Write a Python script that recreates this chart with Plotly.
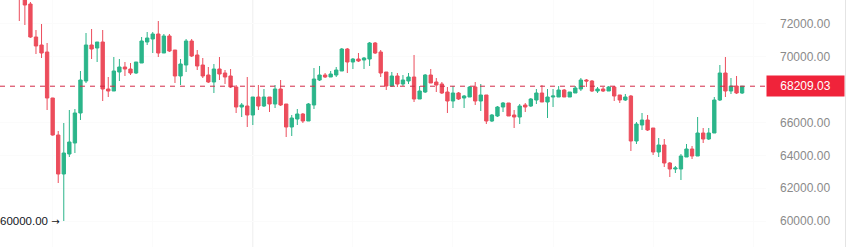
import plotly.graph_objects as go

# ---- data ----
opens = [74300, 73700, 73215, 71206, 70718, 70292, 67491, 65237, 62862, 64080,
         64750, 66577, 68526, 70718, 70536, 70901, 68039, 67917, 69074, 69379,
         69257, 69013, 69622, 70901, 71084, 71388, 70231, 71267, 70414, 68831,
         69500, 70962, 70110, 69500, 68891, 68465, 69257, 69013, 68831, 68161,
         66943, 67004, 66455, 67552, 67004, 67552, 67125, 68039, 67125, 65725,
         66212, 66516, 66090, 67065, 68587, 68891, 68770, 68891, 69135, 70475,
         69683, 69866, 69805, 69866, 70840, 70292, 69074, 68222, 68831, 68343,
         68526, 68770, 67430, 67856, 68891, 68465, 68343, 67856, 67308, 67795,
         67491, 67552, 68161, 67308, 67674, 66090, 66394, 66943, 67186, 66455,
         66334, 67065, 67004, 67369, 67795, 67247, 67552, 67552, 67978, 67552,
         67795, 68039, 68587, 68526, 67917, 68039, 67917, 68161, 67674, 67369,
         67613, 64872, 65846, 66151, 65664, 64202, 64628, 63532, 63167, 63167,
         63897, 64385, 63959, 65359, 64994, 65359, 67369, 69013, 67917, 68222,
         67795]
highs = [74600, 73900, 73337, 71632, 71997, 70840, 67500, 65481, 65968, 66760,
         66821, 69135, 71449, 71693, 70901, 71632, 68770, 69988, 69866, 69683,
         69622, 69683, 71206, 71510, 71510, 72180, 71388, 71388, 70414, 69866,
         71084, 71084, 70414, 69927, 69379, 69561, 69988, 69196, 69257, 68282,
         67186, 68770, 67552, 68282, 68039, 67552, 68282, 68587, 67125, 66455,
         66821, 66577, 67186, 69318, 69440, 69013, 69135, 69379, 70536, 70536,
         69927, 70231, 69988, 70901, 70901, 70414, 69074, 69074, 69013, 68891,
         69013, 70110, 68222, 68952, 69257, 68709, 68465, 68161, 68222, 67856,
         67674, 68222, 68465, 68343, 67674, 66516, 67004, 67247, 67186, 66760,
         67125, 67186, 67491, 68039, 68282, 68039, 68039, 68222, 68039, 67856,
         68222, 68709, 68648, 68587, 68161, 68161, 68222, 68222, 67674, 67734,
         67674, 66029, 66577, 66455, 65664, 65055, 64994, 63593, 63350, 64080,
         64689, 64568, 66334, 65664, 65664, 67552, 69500, 69988, 68709, 68831,
         68222]
lows = [72180, 71936, 71150, 70170, 69927, 66760, 65200, 62314, 60000, 63897,
        64141, 66151, 68404, 69866, 69683, 67308, 67552, 67917, 68526, 68831,
        68891, 68952, 69622, 70718, 70231, 69988, 70231, 70292, 68404, 68282,
        69074, 69988, 69196, 68709, 68404, 67795, 68587, 68343, 68100, 66577,
        66334, 65725, 65846, 66760, 66943, 66638, 66882, 67004, 65116, 65177,
        65846, 65968, 66090, 66821, 68526, 68709, 68770, 68770, 69135, 69013,
        69257, 69683, 69257, 69440, 70170, 68770, 67978, 68161, 68161, 68222,
        68343, 67247, 67430, 67795, 68404, 67856, 67734, 66577, 66882, 67369,
        66882, 67552, 67065, 66699, 65907, 66029, 66334, 66638, 66394, 65664,
        65907, 66638, 66943, 67125, 67247, 66273, 66943, 67552, 67552, 67552,
        67795, 67917, 68161, 67856, 67795, 67856, 67917, 67308, 67186, 67308,
        64263, 64689, 65542, 65481, 64019, 63897, 63289, 62680, 62923, 62497,
        63897, 63776, 63959, 64750, 64933, 65359, 67308, 67552, 67734, 67734,
        67734]
closes = [73700, 73154, 71206, 70658, 70231, 67491, 65237, 62862, 64141, 64811,
          66577, 68587, 70718, 70475, 70901, 68039, 67917, 69135, 69379, 69257,
          69013, 69683, 70962, 71145, 71388, 70231, 71267, 70353, 68831, 69561,
          70962, 70049, 69440, 68831, 68465, 69257, 68952, 68770, 68161, 66943,
          67065, 66455, 67552, 67004, 67552, 67125, 68039, 67065, 65725, 66273,
          66516, 66090, 67125, 68648, 68891, 68770, 68952, 69196, 70475, 69683,
          69866, 69744, 69927, 70840, 70231, 69013, 68222, 68831, 68343, 68587,
          68770, 67430, 67917, 68891, 68404, 68282, 67795, 67308, 67795, 67430,
          67613, 68161, 67308, 67674, 66090, 66455, 66943, 67186, 66394, 66334,
          67004, 66943, 67430, 67795, 67247, 67552, 67613, 67978, 67552, 67856,
          68100, 68587, 68526, 67917, 68039, 67917, 68161, 67613, 67369, 67552,
          64872, 65907, 66151, 65542, 64202, 64628, 63532, 63167, 63228, 63959,
          64385, 63959, 65359, 64994, 65359, 67369, 69013, 67917, 68222, 67795,
          68209.03]
candle_index = list(range(len(closes)))

y_tick_values = [60000, 62000, 64000, 66000, 70000, 72000]
y_tick_labels = ["60000.00", "62000.00", "64000.00", "66000.00", "70000.00", "72000.00"]
last_price = 68209.03
last_price_label = "68209.03"
low_point_index = 8
low_point_value = 60000
low_point_text = "60000.00"
low_point_arrow = "→"
separator_index = 42

# ---- layout geometry ----
W, H = 849, 247
pane_right = 766           # px where the price pane ends
px_per_candle = 5.56
first_candle_px = 19.3
x0 = -first_candle_px / px_per_candle
x_range = [x0, x0 + pane_right / px_per_candle]
y_range = [58417, 73459]

green = "#2bb58a"
red = "#ec4d5c"

fig = go.Figure()
fig.add_trace(go.Candlestick(
    x=candle_index, open=opens, high=highs, low=lows, close=closes,
    increasing=dict(line=dict(color=green, width=1), fillcolor=green),
    decreasing=dict(line=dict(color=red, width=1), fillcolor=red),
    whiskerwidth=0, hoverinfo="skip", showlegend=False,
))

shapes = [
    # faint vertical separator
    dict(type="line", xref="x", yref="paper", x0=separator_index, x1=separator_index,
         y0=0, y1=1, line=dict(color="#eeeeee", width=1), layer="below"),
    # last price dashed line
    dict(type="line", xref="paper", yref="y", x0=0, x1=pane_right / W,
         y0=last_price, y1=last_price, line=dict(color="#d42a48", width=1, dash="5px,5px")),
    # right border
    dict(type="line", xref="paper", yref="paper", x0=845.5 / W, x1=845.5 / W,
         y0=0, y1=1, line=dict(color="#e4e4e4", width=1)),
]

annotations = [
    dict(xref="paper", yref="y", x=pane_right / W, y=last_price, xanchor="left",
         yanchor="middle", text=last_price_label, showarrow=False,
         bgcolor="#f0233a", font=dict(color="white", size=12, family="Arial"),
         width=77, height=20, borderpad=0, align="center"),
    dict(xref="x", yref="y", x=low_point_index, y=low_point_value, xanchor="right",
         yanchor="middle", xshift=-2,
         text=low_point_text + " <span style='font-family:DejaVu Sans;font-size:10px'>"
              + low_point_arrow + "</span>",
         showarrow=False, font=dict(color="#131722", size=11.5, family="Arial")),
]

fig.update_layout(
    width=W, height=H, autosize=False,
    margin=dict(l=0, r=0, t=0, b=0, pad=0),
    paper_bgcolor="white", plot_bgcolor="white",
    boxgap=0.4, boxgroupgap=0,
    shapes=shapes, annotations=annotations,
    hovermode=False, dragmode=False, showlegend=False,
    xaxis=dict(domain=[0, pane_right / W], range=x_range, showticklabels=False,
               rangeslider=dict(visible=False), showgrid=True, gridcolor="#fbfbfb",
               tickvals=[6, 24, 60, 78, 96, 114, 132], zeroline=False, showline=False,
               fixedrange=True),
    yaxis=dict(side="right", range=y_range, tickvals=y_tick_values, ticktext=y_tick_labels,
               showgrid=True, gridcolor="#fbfbfb", zeroline=False, showline=False,
               ticks="", ticklabelstandoff=13,
               tickfont=dict(color="#8a8a8a", size=12, family="Arial"), fixedrange=True),
)

fig.write_html("out.html", config=dict(displayModeBar=False, staticPlot=True))
